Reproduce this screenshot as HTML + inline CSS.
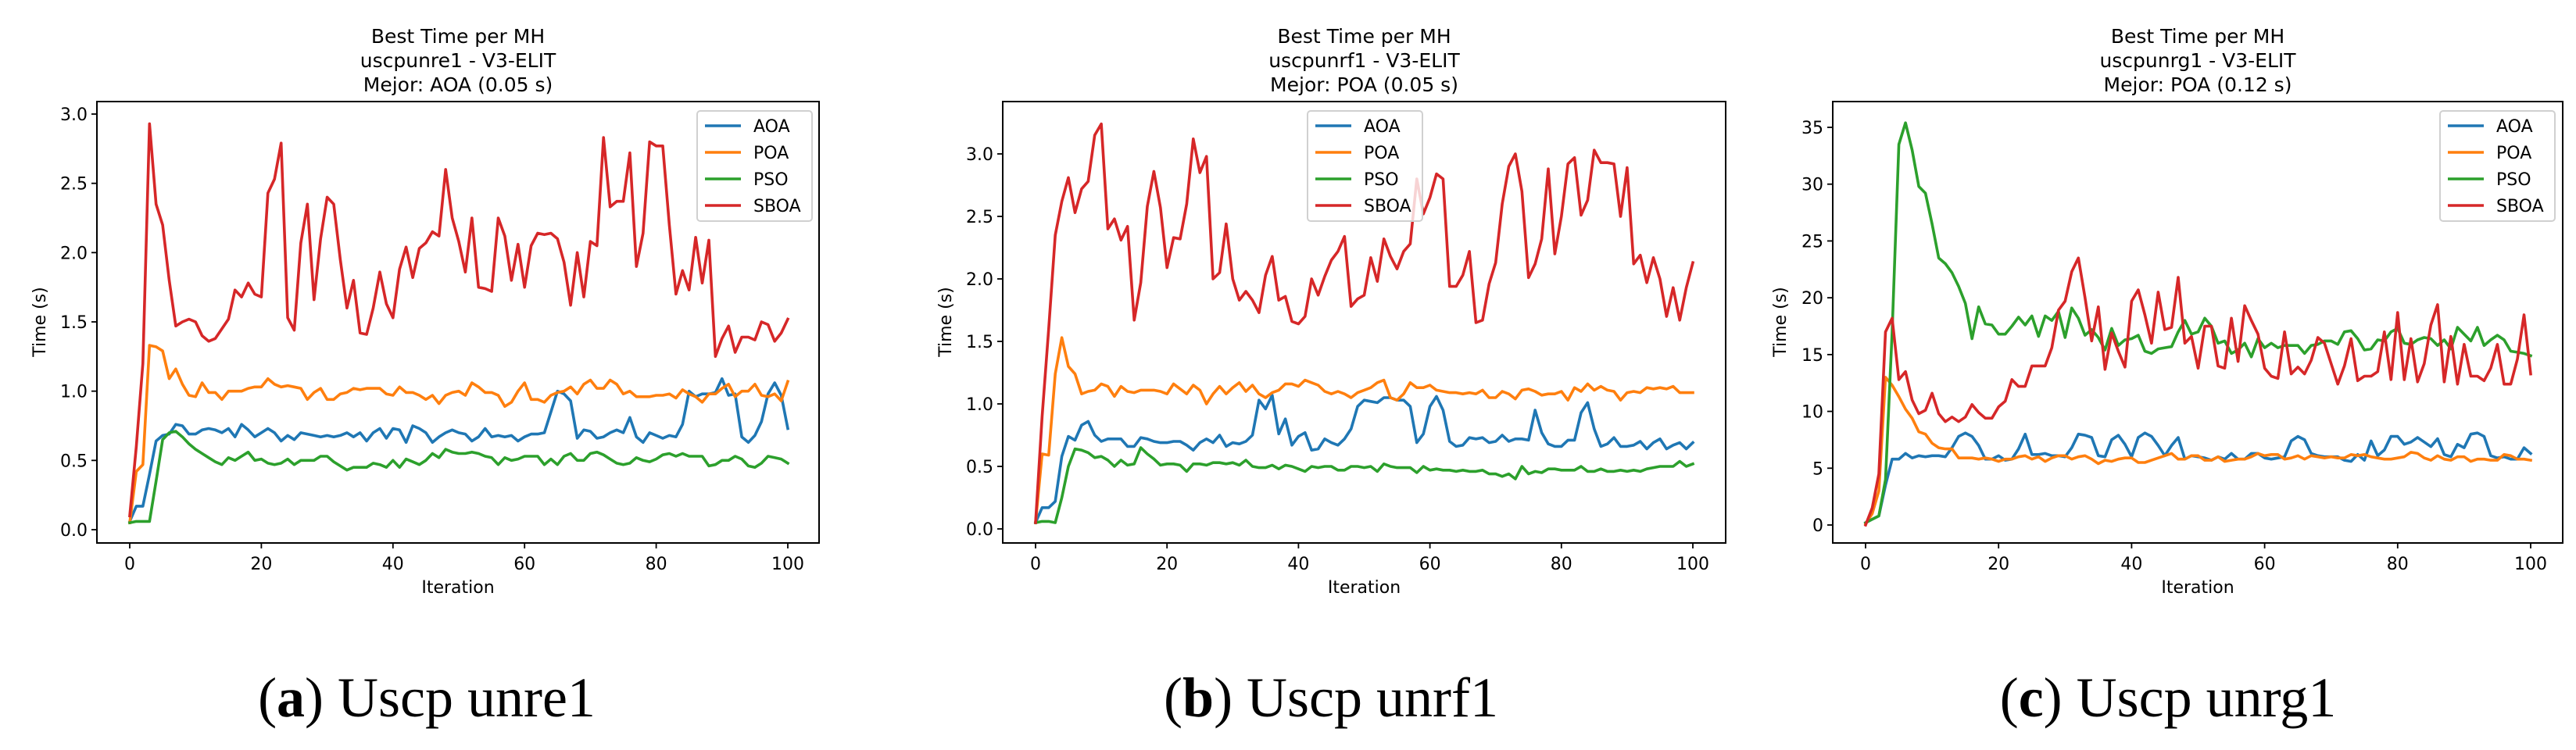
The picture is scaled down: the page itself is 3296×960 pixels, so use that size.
<!DOCTYPE html>
<html><head><meta charset="utf-8"><style>
html,body{margin:0;padding:0;background:#fff;}
svg{display:block;}
text{font-family:"DejaVu Sans","Liberation Sans",sans-serif;fill:#000;}
.cap{font-family:"Liberation Serif","DejaVu Serif",serif;}
</style></head><body>
<svg id="fig" width="3296" height="960" viewBox="0 0 3296 960" xmlns="http://www.w3.org/2000/svg"></svg>
<script>
const iterations = Array.from({length:101},(_,i)=>i);
const seriesNames = ["AOA","POA","PSO","SBOA"];
const xTicks = [0,20,40,60,80,100];
const yTicksA = [0,0.5,1.0,1.5,2.0,2.5,3.0];
const yTicksB = [0,0.5,1.0,1.5,2.0,2.5,3.0];
const yTicksC = [0,5,10,15,20,25,30,35];
const titlesA = ["Best Time per MH","uscpunre1 - V3-ELIT","Mejor: AOA (0.05 s)"];
const titlesB = ["Best Time per MH","uscpunrf1 - V3-ELIT","Mejor: POA (0.05 s)"];
const titlesC = ["Best Time per MH","uscpunrg1 - V3-ELIT","Mejor: POA (0.12 s)"];
const captionA = ["(a)"," Uscp unre1"];
const captionB = ["(b)"," Uscp unrf1"];
const captionC = ["(c)"," Uscp unrg1"];

const aoaA=[0.06,0.17,0.17,0.4,0.64,0.68,0.69,0.76,0.75,0.69,0.69,0.72,0.73,0.72,0.7,0.73,0.67,0.76,0.72,0.67,0.7,0.73,0.7,0.64,0.68,0.65,0.7,0.69,0.68,0.67,0.68,0.67,0.68,0.7,0.67,0.7,0.64,0.7,0.73,0.66,0.73,0.72,0.63,0.75,0.73,0.7,0.63,0.67,0.7,0.72,0.7,0.69,0.64,0.67,0.73,0.67,0.68,0.67,0.68,0.64,0.67,0.69,0.69,0.7,0.85,1.0,0.98,0.93,0.66,0.72,0.71,0.66,0.67,0.7,0.72,0.7,0.81,0.67,0.63,0.7,0.68,0.66,0.68,0.67,0.76,1.0,0.96,0.98,0.98,0.99,1.09,0.97,0.98,0.67,0.63,0.68,0.78,0.98,1.06,0.97,0.73];
const poaA=[0.05,0.42,0.47,1.33,1.32,1.29,1.09,1.16,1.05,0.97,0.96,1.06,0.99,0.99,0.94,1.0,1.0,1.0,1.02,1.03,1.03,1.09,1.05,1.03,1.04,1.03,1.02,0.94,0.99,1.02,0.94,0.94,0.98,0.99,1.02,1.01,1.02,1.02,1.02,0.98,0.97,1.03,0.99,0.99,0.97,0.94,0.97,0.91,0.97,0.99,1.0,0.97,1.06,1.03,0.99,0.99,0.97,0.89,0.92,1.0,1.06,0.94,0.94,0.92,0.97,0.99,1.0,1.03,0.98,1.05,1.08,1.02,1.02,1.08,1.05,0.98,1.0,0.96,0.96,0.96,0.97,0.97,0.98,0.95,1.01,0.98,0.96,0.92,0.98,0.98,1.02,1.05,0.96,1.0,1.0,1.05,0.97,0.96,0.98,0.93,1.07];
const psoA=[0.05,0.06,0.06,0.06,0.35,0.65,0.7,0.71,0.67,0.62,0.58,0.55,0.52,0.49,0.47,0.52,0.5,0.53,0.56,0.5,0.51,0.48,0.47,0.48,0.51,0.47,0.5,0.5,0.5,0.53,0.53,0.49,0.46,0.43,0.45,0.45,0.45,0.48,0.47,0.45,0.5,0.45,0.51,0.49,0.47,0.5,0.55,0.52,0.58,0.56,0.55,0.55,0.56,0.55,0.53,0.52,0.47,0.52,0.5,0.51,0.53,0.53,0.53,0.47,0.51,0.47,0.53,0.55,0.5,0.5,0.55,0.56,0.54,0.51,0.48,0.47,0.48,0.52,0.5,0.49,0.51,0.54,0.55,0.53,0.55,0.53,0.53,0.53,0.46,0.47,0.5,0.5,0.53,0.51,0.46,0.45,0.48,0.53,0.52,0.51,0.48];
const sboaA=[0.1,0.6,1.2,2.93,2.35,2.2,1.8,1.47,1.5,1.52,1.5,1.4,1.36,1.38,1.45,1.52,1.73,1.68,1.78,1.7,1.68,2.43,2.53,2.79,1.53,1.44,2.07,2.35,1.66,2.1,2.4,2.35,1.95,1.6,1.8,1.42,1.41,1.6,1.86,1.63,1.53,1.88,2.04,1.82,2.03,2.07,2.15,2.12,2.6,2.25,2.08,1.86,2.25,1.75,1.74,1.72,2.25,2.12,1.8,2.06,1.75,2.05,2.14,2.13,2.14,2.1,1.93,1.62,2.0,1.68,2.08,2.05,2.83,2.33,2.37,2.37,2.72,1.9,2.14,2.8,2.77,2.77,2.2,1.7,1.87,1.73,2.11,1.78,2.09,1.25,1.38,1.47,1.28,1.39,1.39,1.37,1.5,1.48,1.36,1.42,1.52];

const aoaB=[0.05,0.17,0.17,0.22,0.58,0.74,0.71,0.83,0.86,0.75,0.7,0.72,0.72,0.72,0.66,0.66,0.73,0.72,0.7,0.69,0.69,0.7,0.7,0.67,0.63,0.69,0.72,0.69,0.75,0.66,0.69,0.68,0.7,0.75,1.03,0.96,1.07,0.76,0.88,0.67,0.74,0.77,0.63,0.64,0.72,0.69,0.67,0.72,0.8,0.98,1.03,1.02,1.01,1.05,1.05,1.03,1.03,0.98,0.69,0.76,0.98,1.06,0.95,0.7,0.66,0.67,0.73,0.72,0.73,0.69,0.7,0.75,0.7,0.72,0.72,0.71,0.95,0.77,0.68,0.66,0.66,0.71,0.71,0.93,1.01,0.8,0.66,0.68,0.73,0.66,0.66,0.67,0.7,0.64,0.69,0.72,0.64,0.67,0.69,0.64,0.69];
const poaB=[0.05,0.6,0.59,1.24,1.53,1.3,1.24,1.08,1.1,1.11,1.16,1.14,1.06,1.14,1.1,1.09,1.11,1.11,1.11,1.1,1.08,1.16,1.12,1.08,1.15,1.11,1.0,1.08,1.14,1.08,1.13,1.17,1.1,1.15,1.08,1.05,1.09,1.11,1.16,1.16,1.14,1.19,1.17,1.15,1.1,1.08,1.1,1.08,1.05,1.09,1.11,1.13,1.17,1.19,1.05,1.03,1.08,1.17,1.13,1.13,1.15,1.11,1.1,1.09,1.09,1.08,1.09,1.08,1.11,1.05,1.05,1.1,1.08,1.04,1.11,1.12,1.1,1.07,1.08,1.08,1.1,1.03,1.13,1.1,1.16,1.11,1.14,1.11,1.1,1.03,1.09,1.1,1.09,1.13,1.12,1.13,1.12,1.14,1.09,1.09,1.09];
const psoB=[0.05,0.06,0.06,0.05,0.25,0.5,0.64,0.63,0.61,0.57,0.58,0.55,0.5,0.55,0.51,0.52,0.65,0.6,0.56,0.51,0.52,0.52,0.51,0.46,0.52,0.52,0.51,0.53,0.53,0.52,0.53,0.51,0.55,0.5,0.49,0.49,0.51,0.48,0.51,0.5,0.48,0.46,0.5,0.49,0.5,0.5,0.47,0.47,0.5,0.5,0.49,0.5,0.46,0.52,0.5,0.49,0.49,0.49,0.45,0.5,0.47,0.48,0.47,0.47,0.46,0.47,0.46,0.46,0.47,0.44,0.44,0.42,0.44,0.4,0.5,0.44,0.46,0.45,0.48,0.48,0.47,0.47,0.47,0.5,0.46,0.46,0.48,0.46,0.46,0.47,0.46,0.47,0.46,0.48,0.49,0.5,0.5,0.5,0.54,0.5,0.52];
const sboaB=[0.05,0.9,1.6,2.35,2.62,2.81,2.53,2.72,2.78,3.15,3.24,2.4,2.48,2.31,2.42,1.67,1.97,2.58,2.86,2.57,2.09,2.33,2.32,2.6,3.12,2.85,2.98,2.0,2.05,2.44,2.0,1.83,1.9,1.83,1.73,2.03,2.18,1.83,1.86,1.66,1.64,1.7,2.0,1.87,2.02,2.15,2.22,2.34,1.78,1.84,1.87,2.17,1.98,2.32,2.18,2.08,2.22,2.28,2.8,2.52,2.65,2.84,2.8,1.94,1.94,2.03,2.22,1.65,1.67,1.96,2.13,2.6,2.9,3.0,2.7,2.01,2.12,2.32,2.88,2.2,2.5,2.92,2.97,2.51,2.63,3.03,2.93,2.93,2.92,2.5,2.89,2.12,2.19,1.97,2.17,2.0,1.7,1.93,1.67,1.93,2.13];

const aoaC=[0.2,0.5,0.8,3.5,5.8,5.8,6.3,5.9,6.1,6,6.1,6.1,6,6.8,7.8,8.1,7.8,7,5.8,5.8,6.1,5.7,5.8,6.7,8,6.2,6.2,6.3,6.1,6.1,6,6.8,8,7.9,7.7,6.1,6,7.5,7.9,7.1,6,7.7,8.1,7.8,7,6.1,7,7.7,5.8,6.1,6,5.9,5.7,6,5.8,6.3,5.8,5.8,6.3,6.3,5.9,5.8,5.9,6,7.4,7.8,7.5,6.3,6.1,6,6,6,5.7,5.6,6.2,5.7,7.4,6.1,6.6,7.8,7.8,7.1,7.3,7.7,7.3,6.9,7.6,6.2,6,7.1,6.8,8,8.1,7.8,6.1,5.9,6,5.8,5.8,6.8,6.3];
const poaC=[0.1,1.0,3.0,13,12.3,11.3,10.2,9.4,8.2,8,7.2,6.8,6.7,6.7,5.9,5.9,5.9,5.8,5.9,5.8,5.6,5.8,5.8,6,6.1,5.8,6,5.6,5.9,6.1,6.1,5.8,6,6.1,5.8,5.4,5.7,5.6,5.8,5.9,5.9,5.5,5.5,5.7,5.9,6.1,6.3,5.8,5.8,6.1,6.1,5.7,5.7,6,5.6,5.7,5.8,5.8,6,6.3,6.1,6.2,6.2,5.8,5.9,6.1,5.8,6.1,6,5.9,6,5.9,5.9,6.2,6.1,6.2,6,5.9,5.8,5.8,5.9,6,6.4,6.3,5.9,5.7,6.1,5.8,5.7,6,6,5.6,5.8,5.8,5.7,5.7,6.2,6.1,5.8,5.8,5.7];
const psoC=[0.2,0.5,0.8,4,17,33.5,35.4,33,29.8,29.2,26.5,23.5,23,22.2,21,19.5,16.4,19.2,17.7,17.6,16.8,16.8,17.5,18.3,17.6,18.4,16.6,18.4,18,18.8,16.5,19.1,18.2,16.7,17.2,16.5,15.4,17.3,15.8,16.3,16.4,16.7,15.3,15.1,15.5,15.6,15.7,17,18,16.8,17,18.2,17.5,16,16.2,15.1,15.4,16,14.8,16.4,15.6,16,15.6,15.8,15.8,15.8,15.1,15.8,15.9,16.2,16.2,15.9,17,17.1,16.4,15.4,15.5,16.3,16.2,17,17.3,16,15.9,16.3,16.5,16.4,15.8,16.3,15.5,17.4,16.8,16.2,17.4,15.8,16.3,16.7,16.3,15.3,15.2,15.1,14.9];
const sboaC=[0,1.5,4.5,17,18.2,12.8,13.5,11,9.8,10.1,11.6,9.8,9.1,9.5,9.1,9.5,10.6,9.9,9.4,9.4,10.4,10.9,12.8,12.2,12.2,14,14,14,15.6,18.9,19.7,22.3,23.5,20,16.2,19.2,13.7,16.9,15.3,13.9,19.7,20.7,18.5,16,20.5,17.2,17.4,21.8,16,16.6,13.8,17.5,17.5,14,13.8,18.2,14.4,19.3,18,16.8,13.8,13.1,12.9,17,13.3,13.9,13.3,14.5,16.5,16,14.2,12.4,14,16.4,12.7,13.1,13.1,13.5,17,12.8,18.7,12.8,16.4,12.6,14.2,17.6,19.4,12.6,16.6,12.4,15.9,13.1,13.1,12.7,13.8,15.9,12.4,12.4,14.6,18.5,13.3];

const COLORS=["#1f77b4","#ff7f0e","#2ca02c","#d62728"];
const NS="http://www.w3.org/2000/svg";
const svg=document.getElementById('fig');
function mk(tag,attrs,parent){const e=document.createElementNS(NS,tag);for(const k in attrs)e.setAttribute(k,attrs[k]);(parent||svg).appendChild(e);return e;}

function drawChart(cfg){
  const g=mk('g',{});
  
  
  const xs=v=>cfg.x0+(v-0)*(cfg.x100-cfg.x0)/100;
  const ys=v=>cfg.yZero+(v-0)*(cfg.yTop-cfg.yZero)/cfg.yTopVal;
  cfg.titles.forEach((t,i)=>{
    const e=mk('text',{x:(cfg.bx0+cfg.bx1)/2,y:55+i*31,'text-anchor':'middle','font-size':25},g);
    e.textContent=t;
    
    
  });
  cfg.series.forEach((arr,si)=>{
    const pts=arr.map((v,i)=>xs(iterations[i]).toFixed(1)+','+ys(v).toFixed(1)).join(' ');
    const p=mk('polyline',{points:pts,fill:'none',stroke:COLORS[si],'stroke-width':3.6,'stroke-linejoin':'round','stroke-linecap':'square'},g);
    
    
  });
  const box=mk('rect',{x:cfg.bx0,y:130,width:cfg.bx1-cfg.bx0,height:565,fill:'none',stroke:'#000','stroke-width':2},g);
  
  
  xTicks.forEach(t=>{
    const x=xs(t);
    mk('line',{x1:x,x2:x,y1:695,y2:702,stroke:'#000','stroke-width':1.8},g);
    const e=mk('text',{x:x,y:729,'text-anchor':'middle','font-size':22},g);
    e.textContent=t;
    
    
  });
  cfg.yTicks.forEach(t=>{
    const y=ys(t);
    mk('line',{x1:cfg.bx0-7,x2:cfg.bx0,y1:y,y2:y,stroke:'#000','stroke-width':1.8},g);
    const e=mk('text',{x:cfg.bx0-12,y:y+8,'text-anchor':'end','font-size':22},g);
    e.textContent=cfg.yFmt(t);
    
    
  });
  const xl=mk('text',{x:(cfg.bx0+cfg.bx1)/2,y:759,'text-anchor':'middle','font-size':22},g);
  xl.textContent='Iteration';
  
  
  const yl=mk('text',{x:0,y:0,'text-anchor':'middle','font-size':22,transform:`translate(${cfg.ylx},412) rotate(-90)`},g);
  yl.textContent='Time (s)';
  
  
  const lg=mk('g',{},g);
  
  
  mk('rect',{x:cfg.lx,y:142,width:147,height:141,rx:4,fill:'#fff','fill-opacity':0.8,stroke:'#d0d0d0','stroke-width':2},lg);
  seriesNames.forEach((n,i)=>{
    const y=161+i*34;
    mk('line',{x1:cfg.lx+10,x2:cfg.lx+56,y1:y,y2:y,stroke:COLORS[i],'stroke-width':3.6},lg);
    const e=mk('text',{x:cfg.lx+72,y:y+8,'font-size':22},lg);
    e.textContent=n;
    
    
  });
  const c=mk('text',{x:cfg.capx,y:917,'text-anchor':'middle','font-size':72,class:'cap'},g);
  
  
  const b=mk('tspan',{},c);b.textContent='(';
  const bb=mk('tspan',{'font-weight':'bold'},c);bb.textContent=cfg.caption[0].slice(1,-1);
  const b2=mk('tspan',{},c);b2.textContent=')'+cfg.caption[1];
}
const fmt1=v=>v.toFixed(1), fmt0=v=>String(v);
drawChart({id:'chart-uscp-unre1',bx0:124,bx1:1048,x0:166,x100:1008,yZero:678,yTop:146,yTopVal:3.0,yTicks:yTicksA,yFmt:fmt1,titles:titlesA,series:[aoaA,poaA,psoA,sboaA],lx:892,ylx:58,capx:546,caption:captionA});
drawChart({id:'chart-uscp-unrf1',bx0:1283,bx1:2208,x0:1325,x100:2166,yZero:677,yTop:197,yTopVal:3.0,yTicks:yTicksB,yFmt:fmt1,titles:titlesB,series:[aoaB,poaB,psoB,sboaB],lx:1673,ylx:1217,capx:1703,caption:captionB});
drawChart({id:'chart-uscp-unrg1',bx0:2345,bx1:3279,x0:2387,x100:3238,yZero:672,yTop:163,yTopVal:35,yTicks:yTicksC,yFmt:fmt0,titles:titlesC,series:[aoaC,poaC,psoC,sboaC],lx:3122,ylx:2285,capx:2774,caption:captionC});
</script>
</body></html>
